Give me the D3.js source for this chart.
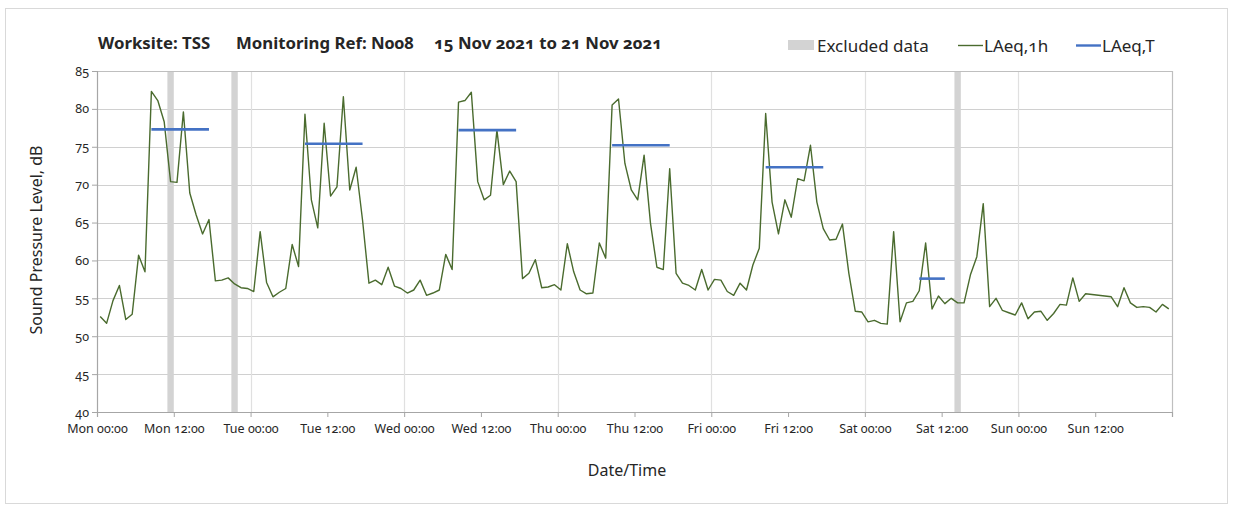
<!DOCTYPE html>
<html>
<head>
<meta charset="utf-8">
<script src="https://cdn.jsdelivr.net/npm/d3@7"></script>
<style>
  html, body { margin: 0; padding: 0; background: #fff; }
  svg text { font-family: "Noto Sans", "Open Sans", sans-serif; font-variant-numeric: oldstyle-nums; font-feature-settings: "onum" 1; fill: #262626; }
</style>
</head>
<body>
<svg id="chart" width="1234" height="510"></svg>
<script>
// ---- Data ----
const titleParts = ["Worksite: TSS", "Monitoring Ref: N008", "15 Nov 2021 to 21 Nov 2021"];
const xTickHours = [0, 12, 24, 36, 48, 60, 72, 84, 96, 108, 120, 132, 144, 156];
const xTickLabels = ["Mon 00:00","Mon 12:00","Tue 00:00","Tue 12:00","Wed 00:00","Wed 12:00","Thu 00:00","Thu 12:00","Fri 00:00","Fri 12:00","Sat 00:00","Sat 12:00","Sun 00:00","Sun 12:00"];
const yTicks = [40, 45, 50, 55, 60, 65, 70, 75, 80, 85];

// hourly LAeq,1h values, hour 0 .. 167 (plotted at mid-hour)
const laeq1h = [
  52.6, 51.7, 54.7, 56.7, 52.2, 52.9, 60.7, 58.5, 82.3, 81.1, 78.3, 70.4,
  70.3, 79.6, 68.9, 66.0, 63.5, 65.4, 57.3, 57.4, 57.7, 56.9, 56.4, 56.3,
  55.9, 63.8, 57.1, 55.2, 55.8, 56.3, 62.1, 59.2, 79.3, 68.0, 64.3, 78.1,
  68.5, 69.7, 81.6, 69.3, 72.3, 65.3, 57.0, 57.4, 56.8, 59.1, 56.6, 56.3,
  55.7, 56.1, 57.4, 55.4, 55.7, 56.1, 60.8, 58.8, 80.9, 81.1, 82.2, 70.4,
  68.0, 68.6, 77.2, 70.0, 71.8, 70.4, 57.6, 58.3, 60.1, 56.4, 56.5, 56.8,
  56.1, 62.2, 58.5, 56.1, 55.6, 55.7, 62.3, 60.3, 80.5, 81.3, 72.8, 69.3,
  68.0, 73.9, 64.9, 59.1, 58.8, 72.1, 58.3, 57.0, 56.7, 56.1, 58.8, 56.1,
  57.5, 57.4, 55.9, 55.4, 57.0, 56.1, 59.4, 61.6, 79.4, 67.7, 63.5, 68.0,
  65.7, 70.8, 70.5, 75.2, 67.7, 64.2, 62.7, 62.8, 64.8, 58.3, 53.3, 53.2,
  51.9, 52.1, 51.7, 51.6, 63.8, 51.9, 54.4, 54.6, 56.0, 62.3, 53.6, 55.3,
  54.3, 55.0, 54.4, 54.4, 58.1, 60.5, 67.5, 53.9, 55.0, 53.4, 53.1, 52.8,
  54.4, 52.3, 53.2, 53.3, 52.1, 53.0, 54.2, 54.1, 57.7, 54.6, 55.6, 55.5,
  55.4, 55.3, 55.2, 53.9, 56.4, 54.4, 53.8, 53.9, 53.8, 53.2, 54.2, 53.6
];

// LAeq,T period segments: start hour, end hour, level
const laeqTStart = [8.5, 32.5, 56.5, 80.5, 104.5, 128.5];
const laeqTEnd   = [17.5, 41.5, 65.5, 89.5, 113.5, 132.5];
const laeqTValue = [77.3, 75.4, 77.2, 75.2, 72.3, 57.6];

// Excluded data periods (start hour, end hour)
const excludedStart = [11, 21, 134];
const excludedEnd   = [12, 22, 135];

// ---- Layout ----
const svg = d3.select("#chart");
const m = { left: 97, right: 1172, top: 71, bottom: 412 };

const x = d3.scaleLinear().domain([0, 168]).range([m.left, m.right]);
const y = d3.scaleLinear().domain([40, 85]).range([m.bottom, m.top]);

// outer border
svg.append("rect").attr("x", 5.5).attr("y", 8.5).attr("width", 1222).attr("height", 495)
  .attr("fill", "#fff").attr("stroke", "#d9d9d9").attr("stroke-width", 1);

// horizontal grid
svg.append("g").selectAll("line").data(yTicks.filter(d => d > 40 && d < 85)).join("line")
  .attr("x1", m.left).attr("x2", m.right)
  .attr("y1", d => Math.round(y(d)) + 0.5).attr("y2", d => Math.round(y(d)) + 0.5)
  .attr("stroke", "#d0d0d0").attr("stroke-width", 1.2);

// vertical grid (each day)
svg.append("g").selectAll("line").data([24, 48, 72, 96, 120, 144]).join("line")
  .attr("x1", d => Math.round(x(d)) + 0.5).attr("x2", d => Math.round(x(d)) + 0.5)
  .attr("y1", m.top).attr("y2", m.bottom)
  .attr("stroke", "#e0e0e0").attr("stroke-width", 1.2);

// excluded bars
svg.append("g").selectAll("rect").data(excludedStart.map((s, i) => [s, excludedEnd[i]])).join("rect")
  .attr("x", d => x(d[0])).attr("width", d => x(d[1]) - x(d[0]))
  .attr("y", m.top).attr("height", m.bottom - m.top)
  .attr("fill", "#d3d3d3");

// plot frame (top, right)
svg.append("line").attr("x1", m.left).attr("x2", m.right).attr("y1", m.top + 0.5).attr("y2", m.top + 0.5)
  .attr("stroke", "#bfbfbf").attr("stroke-width", 1.2);
svg.append("line").attr("x1", m.right + 0.5).attr("x2", m.right + 0.5).attr("y1", m.top).attr("y2", m.bottom)
  .attr("stroke", "#bfbfbf").attr("stroke-width", 1.2);

// axes
const xAxis = d3.axisBottom(x).tickValues(xTickHours.concat([168])).tickSize(5)
  .tickFormat((d) => { const i = xTickHours.indexOf(d); return i >= 0 ? xTickLabels[i] : ""; });
const gx = svg.append("g").attr("transform", `translate(0,${m.bottom})`).call(xAxis);
gx.select(".domain").attr("stroke", "#a6a6a6").attr("stroke-width", 1.2);
gx.selectAll(".tick line").attr("stroke", "#a6a6a6");
gx.selectAll(".tick text").attr("font-size", 12.5).attr("dy", "1.05em").attr("fill", "#262626");

const yAxis = d3.axisLeft(y).tickValues(yTicks).tickSize(5);
const gy = svg.append("g").attr("transform", `translate(${m.left},0)`).call(yAxis);
gy.select(".domain").attr("stroke", "#a6a6a6").attr("stroke-width", 1.2);
gy.selectAll(".tick line").attr("stroke", "#a6a6a6");
gy.selectAll(".tick text").attr("font-size", 12.5).attr("x", -8).attr("fill", "#262626");

// LAeq,1h line
const line = d3.line().x((d, i) => x(i + 0.5)).y(d => y(d));
svg.append("path").datum(laeq1h).attr("d", line)
  .attr("fill", "none").attr("stroke", "#4a6b2e").attr("stroke-width", 1.4).attr("stroke-linejoin", "round");

// LAeq,T segments
svg.append("g").selectAll("line").data(laeqTValue.map((v, i) => ({ s: laeqTStart[i], e: laeqTEnd[i], v }))).join("line")
  .attr("x1", d => x(d.s)).attr("x2", d => x(d.e))
  .attr("y1", d => y(d.v)).attr("y2", d => y(d.v))
  .attr("stroke", "#4472c4").attr("stroke-width", 2.6);

// title (three parts)
const titleX = [98, 236, 434];
svg.append("g").selectAll("text").data(titleParts).join("text")
  .attr("x", (d, i) => titleX[i]).attr("y", 49).attr("font-size", 16.8).attr("font-weight", "bold")
  .attr("fill", "#000").text(d => d);

// legend
const lg = svg.append("g");
lg.append("rect").attr("x", 788).attr("y", 40).attr("width", 26).attr("height", 10).attr("fill", "#d3d3d3");
lg.append("text").attr("x", 817).attr("y", 52).attr("font-size", 17).text("Excluded data");
lg.append("line").attr("x1", 958).attr("x2", 983).attr("y1", 45.5).attr("y2", 45.5).attr("stroke", "#4a6b2e").attr("stroke-width", 1.4);
lg.append("text").attr("x", 984).attr("y", 52).attr("font-size", 17).text("LAeq,1h");
lg.append("line").attr("x1", 1076).attr("x2", 1101).attr("y1", 45.5).attr("y2", 45.5).attr("stroke", "#4472c4").attr("stroke-width", 2.4);
lg.append("text").attr("x", 1102).attr("y", 52).attr("font-size", 17).text("LAeq,T");

// axis titles
svg.append("text").attr("transform", "translate(42,240) rotate(-90)").attr("text-anchor", "middle")
  .attr("font-size", 16).text("Sound Pressure Level, dB");
svg.append("text").attr("x", 627).attr("y", 476).attr("text-anchor", "middle")
  .attr("font-size", 16).text("Date/Time");
</script>
</body>
</html>
